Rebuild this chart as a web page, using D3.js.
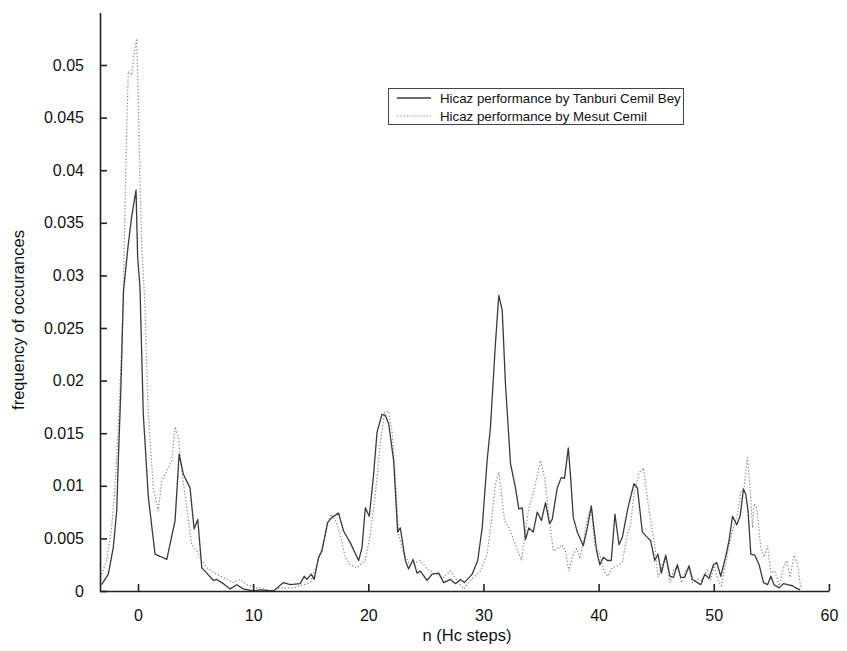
<!DOCTYPE html>
<html><head><meta charset="utf-8">
<script src="https://cdn.jsdelivr.net/npm/d3@7"></script>
<style>
html,body{margin:0;padding:0;background:#fff;}
svg text{font-family:"Liberation Sans",Arial,sans-serif;fill:#111;}
</style></head>
<body><svg id="c" width="847" height="651"></svg>
<script>
const xTicks=[0,10,20,30,40,50,60];
const yTicks=[0,0.005,0.01,0.015,0.02,0.025,0.03,0.035,0.04,0.045,0.05];
const seriesNames=["Hicaz performance by Tanburi Cemil Bey","Hicaz performance by Mesut Cemil"];
const tanburiN=[-3.16,-2.58,-2.15,-1.85,-1.71,-1.50,-1.26,-0.84,-0.55,-0.17,-0.03,0.17,0.46,0.90,1.48,1.91,2.50,3.22,3.57,3.94,4.52,4.87,5.19,5.54,5.97,6.55,6.84,7.42,8.00,8.58,9.13,10.0,10.6,11.77,12.63,13.22,14.09,14.43,14.67,15.04,15.30,15.68,15.97,16.46,16.84,17.42,17.85,18.43,19.16,19.45,19.74,20.09,20.46,20.76,21.19,21.48,21.77,22.20,22.55,22.78,23.22,23.50,23.89,24.23,24.52,25.10,25.54,26.11,26.55,27.13,27.57,28.00,28.35,29.02,29.50,29.89,30.32,30.61,31.04,31.33,31.63,31.91,32.35,32.78,33.07,33.37,33.65,33.94,34.32,34.67,35.04,35.39,35.74,35.97,36.41,36.76,37.04,37.37,37.57,37.80,38.15,38.67,39.02,39.37,39.59,39.83,40.11,40.41,40.76,41.10,41.42,41.77,42.06,42.55,43.07,43.37,43.80,44.23,44.52,44.87,45.16,45.45,45.83,46.20,46.50,46.84,47.13,47.48,47.85,48.15,48.58,48.87,49.22,49.59,49.97,50.26,50.61,51.04,51.33,51.63,52.00,52.29,52.58,52.78,52.98,53.22,53.57,53.94,54.32,54.67,54.96,55.24,55.68,56.06,56.41,56.84,57.13,57.50];
const tanburiF=[0.0006,0.0016,0.0041,0.0076,0.0124,0.0188,0.0285,0.0330,0.0356,0.0381,0.0317,0.0289,0.0168,0.0089,0.0035,0.0033,0.0030,0.0067,0.0130,0.0111,0.0098,0.0059,0.0068,0.0022,0.0017,0.0010,0.0011,0.0007,0.0002,0.0006,0.0002,0.0000,0.0001,0.0000,0.0008,0.0006,0.0007,0.0014,0.0011,0.0016,0.0011,0.0032,0.0038,0.0065,0.0070,0.0074,0.0057,0.0046,0.0029,0.0041,0.0079,0.0071,0.0111,0.0151,0.0168,0.0167,0.0159,0.0124,0.0056,0.0060,0.0029,0.0021,0.0030,0.0017,0.0019,0.0010,0.0016,0.0017,0.0008,0.0011,0.0007,0.0011,0.0008,0.0016,0.0029,0.0060,0.0124,0.0156,0.0235,0.0281,0.0267,0.0197,0.0121,0.0098,0.0078,0.0079,0.0049,0.0060,0.0056,0.0075,0.0067,0.0084,0.0064,0.0068,0.0098,0.0108,0.0107,0.0136,0.0108,0.0070,0.0056,0.0043,0.0060,0.0081,0.0060,0.0038,0.0025,0.0032,0.0029,0.0029,0.0073,0.0044,0.0051,0.0079,0.0102,0.0098,0.0056,0.0051,0.0048,0.0029,0.0035,0.0017,0.0034,0.0014,0.0013,0.0025,0.0013,0.0013,0.0024,0.0011,0.0008,0.0006,0.0016,0.0012,0.0025,0.0027,0.0014,0.0033,0.0048,0.0071,0.0063,0.0071,0.0097,0.0092,0.0076,0.0035,0.0034,0.0025,0.0008,0.0006,0.0014,0.0006,0.0003,0.0007,0.0006,0.0005,0.0003,0.0001];
const mesutN=[-3.16,-2.72,-2.29,-2.00,-1.71,-1.50,-1.28,-1.13,-0.98,-0.84,-0.55,-0.35,-0.11,0.03,0.17,0.32,0.61,0.70,0.90,1.33,1.77,2.06,2.50,2.93,3.22,3.50,3.80,4.23,4.67,5.10,5.54,5.97,6.84,7.71,8.29,8.87,9.45,10.32,10.61,11.48,12.35,13.50,14.37,14.96,15.54,16.11,16.70,17.13,17.57,18.00,18.43,19.02,19.74,20.17,20.61,21.04,21.42,21.77,22.06,22.35,22.63,23.07,23.65,24.52,25.10,25.83,26.55,27.13,27.71,28.29,28.87,29.74,30.32,30.76,31.04,31.33,31.57,31.83,32.35,32.78,33.30,33.57,33.94,34.37,34.96,35.30,35.68,36.06,36.55,36.84,37.13,37.42,37.80,38.09,38.37,38.72,39.02,39.37,39.65,40.11,40.46,40.76,41.19,41.63,42.06,42.50,42.78,43.07,43.50,43.89,44.23,44.58,44.87,45.16,45.54,45.83,46.20,46.55,46.90,47.19,47.57,47.85,48.15,48.58,49.02,49.45,49.74,50.03,50.37,50.67,50.96,51.24,51.63,52.06,52.35,52.63,52.93,53.16,53.37,53.50,53.74,54.09,54.37,54.67,54.96,55.30,55.68,56.06,56.35,56.63,56.98,57.28,57.57];
const mesutF=[0.0016,0.0029,0.0060,0.0098,0.0156,0.0210,0.0279,0.0362,0.0441,0.0494,0.0490,0.0510,0.0525,0.0464,0.0394,0.0330,0.0270,0.0232,0.0168,0.0098,0.0076,0.0105,0.0114,0.0124,0.0156,0.0146,0.0114,0.0079,0.0044,0.0038,0.0029,0.0022,0.0016,0.0011,0.0008,0.0011,0.0006,0.0003,0.0003,0.0000,0.0003,0.0003,0.0006,0.0008,0.0025,0.0046,0.0073,0.0068,0.0054,0.0032,0.0025,0.0022,0.0029,0.0054,0.0092,0.0140,0.0170,0.0171,0.0152,0.0108,0.0054,0.0035,0.0025,0.0029,0.0021,0.0016,0.0013,0.0019,0.0010,0.0002,0.0010,0.0019,0.0035,0.0073,0.0102,0.0113,0.0092,0.0067,0.0057,0.0044,0.0029,0.0051,0.0079,0.0095,0.0124,0.0108,0.0073,0.0038,0.0041,0.0044,0.0038,0.0019,0.0035,0.0040,0.0032,0.0048,0.0070,0.0078,0.0044,0.0035,0.0019,0.0014,0.0022,0.0024,0.0027,0.0054,0.0063,0.0092,0.0112,0.0117,0.0089,0.0063,0.0044,0.0013,0.0025,0.0032,0.0008,0.0021,0.0022,0.0008,0.0019,0.0022,0.0008,0.0011,0.0010,0.0021,0.0010,0.0024,0.0010,0.0005,0.0022,0.0038,0.0057,0.0073,0.0094,0.0098,0.0127,0.0098,0.0060,0.0083,0.0079,0.0041,0.0032,0.0043,0.0017,0.0019,0.0005,0.0022,0.0029,0.0013,0.0034,0.0025,0.0002];

const svg=d3.select("#c");
const x=d3.scaleLinear().domain([-3.3,60]).range([100,828.9]);
const y=d3.scaleLinear().domain([0,0.055]).range([591,12.4]);
const axisColor="#222";

const line=d3.line().x(d=>x(d[0])).y(d=>y(d[1]));
const tan=tanburiN.map((n,i)=>[n,tanburiF[i]]);
const mes=mesutN.map((n,i)=>[n,mesutF[i]]);

svg.append("path").datum(mes).attr("d",line).attr("fill","none")
  .attr("stroke","#8a8a8a").attr("stroke-width",1.2).attr("stroke-dasharray","1.3,2");
svg.append("path").datum(tan).attr("d",line).attr("fill","none")
  .attr("stroke","#3a3a3a").attr("stroke-width",1.3).attr("stroke-linejoin","round");

const fmt=d3.format("~g");
const gy=svg.append("g").attr("transform","translate(100,0)")
  .call(d3.axisLeft(y).tickValues(yTicks).tickFormat(fmt).tickSizeInner(-7).tickSizeOuter(0).tickPadding(16));
const gx=svg.append("g").attr("transform","translate(0,591)")
  .call(d3.axisBottom(x).tickValues(xTicks).tickFormat(fmt).tickSizeInner(-7).tickSizeOuter(0).tickPadding(19));
[gx,gy].forEach(g=>{
  g.select(".domain").attr("stroke",axisColor).attr("stroke-width",1.6);
  g.selectAll(".tick line").attr("stroke",axisColor).attr("stroke-width",1.6);
  g.selectAll(".tick text").attr("font-size",16).attr("fill","#111")
   .attr("font-family",'"Liberation Sans",Arial,sans-serif');
});

svg.append("text").attr("x",467).attr("y",641).attr("text-anchor","middle")
  .attr("font-size",16.5).text("n (Hc steps)");
svg.append("text").attr("transform","translate(24,320) rotate(-90)").attr("text-anchor","middle")
  .attr("font-size",16.5).text("frequency of occurances");

// legend
const lg=svg.append("g");
lg.append("rect").attr("x",388.5).attr("y",88.5).attr("width",295).attr("height",36)
  .attr("fill","#fff").attr("stroke","#444").attr("stroke-width",1);
const ls=[{dash:null,color:"#3a3a3a",w:1.3},{dash:"1.3,2",color:"#8a8a8a",w:1.2}];
seriesNames.forEach((s,i)=>{
  const yy=98+i*18;
  lg.append("line").attr("x1",397).attr("x2",431).attr("y1",yy).attr("y2",yy)
    .attr("stroke",ls[i].color).attr("stroke-width",ls[i].w).attr("stroke-dasharray",ls[i].dash);
  lg.append("text").attr("x",440).attr("y",yy+5).attr("font-size",13.3).text(s);
});
</script></body></html>
